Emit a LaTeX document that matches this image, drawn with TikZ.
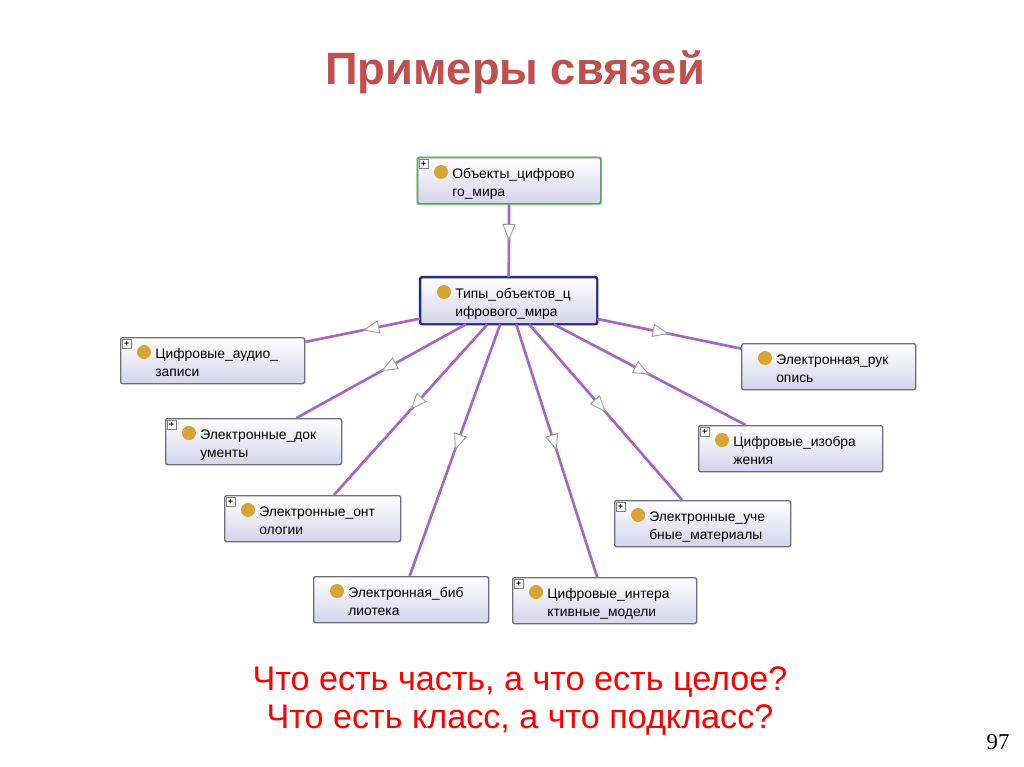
\documentclass[tikz,border=0pt]{standalone}
\usepackage{fontspec}
\setmainfont{Liberation Sans}
\newfontfamily\serifnum{Liberation Serif}
\usetikzlibrary{arrows.meta,decorations.markings,calc}
\definecolor{titlered}{RGB}{192,80,77}
\definecolor{edgepurple}{RGB}{170,100,195}
\definecolor{dotorange}{RGB}{215,165,50}
\definecolor{boxbottom}{RGB}{212,212,236}
\definecolor{boxborder}{RGB}{110,110,120}
\definecolor{hubborder}{RGB}{40,40,140}
\definecolor{topborder}{RGB}{120,200,120}
\tikzset{
  clsbox/.style={draw=boxborder, line width=1pt, rounded corners=1.5pt,
    top color=white, bottom color=boxbottom, inner sep=0pt,
    minimum height=34.5pt, anchor=north west},
  clsdot/.style={circle, fill=dotorange, inner sep=0pt, minimum size=10.5pt},
  clstext/.style={anchor=base west, inner sep=0pt,
    font=\fontsize{10.4}{13.5}\selectfont},
  plusbox/.style={draw=gray, fill=white, line width=0.5pt, inner sep=0pt,
    minimum size=6.5pt, anchor=north west,
    font=\fontsize{6.5}{6.5}\selectfont\bfseries},
  isa/.style={draw=edgepurple, line width=2pt,
    postaction={decorate},
    decoration={markings, mark=at position 0.5 with
      {\arrow[gray!75]{Triangle[fill=white,length=12.5pt,width=10pt,line width=0.7pt]}}}},
}
% \clsnode{name}{x}{y}{width}{line1}{line2}
\newcommand{\clsnode}[6]{%
  \node[clsbox, minimum width=#4*0.75pt] (#1) at (#2,#3) {};
  \node[clsdot] (#1-dot) at ($(#2,#3)+(24,15)$) {};
  \node[clstext] (#1-txt) at ($(#2,#3)+(35,21)$) {\vtop{\hbox{#5}\hbox{#6}}};
}
\newcommand{\plusmark}[3]{%
  \node[plusbox] (#1-plus) at ($(#2,#3)+(2,2)$) {+};
}
\begin{document}
\begin{tikzpicture}[x=0.75pt,y=-0.75pt]
\useasboundingbox (0,0) rectangle (1024,767);
\fill[white] (0,0) rectangle (1024,767);

\node[font=\fontsize{34}{38}\selectfont\bfseries, text=titlered] (title) at (515,72) {Примеры связей};

\clsnode{top}{417}{157}{183}{Объекты\_цифрово}{го\_мира}
\draw[topborder, line width=1pt, rounded corners=1.5pt] (top.north west) rectangle (top.south east);
\plusmark{top}{417}{157}
\clsnode{hub}{420}{277}{176}{Типы\_объектов\_ц}{ифрового\_мира}
\draw[hubborder, line width=1.6pt, rounded corners=1.5pt] (hub.north west) rectangle (hub.south east);

\clsnode{audio}{120}{337}{184}{Цифровые\_аудио\_}{записи}
\plusmark{audio}{120}{337}
\clsnode{manu}{741}{343}{174}{Электронная\_рук}{опись}
\clsnode{docs}{165}{418}{176}{Электронные\_док}{ументы}
\plusmark{docs}{165}{418}
\clsnode{images}{698}{425}{184}{Цифровые\_изобра}{жения}
\plusmark{images}{698}{425}
\clsnode{onto}{224}{495}{176}{Электронные\_онт}{ологии}
\plusmark{onto}{224}{495}
\clsnode{edu}{614}{500}{176}{Электронные\_уче}{бные\_материалы}
\plusmark{edu}{614}{500}
\clsnode{lib}{313}{576}{175}{Электронная\_биб}{лиотека}
\clsnode{inter}{512}{577}{184}{Цифровые\_интера}{ктивные\_модели}
\plusmark{inter}{512}{577}

\draw[isa] (top) -- (hub);
\draw[isa] (hub) -- (audio);
\draw[isa] (hub) -- (docs);
\draw[isa] (hub) -- (onto);
\draw[isa] (hub) -- (lib);
\draw[isa] (hub) -- (inter);
\draw[isa] (hub) -- (edu);
\draw[isa] (hub) -- (images);
\draw[isa] (hub) -- (manu);

\node[font=\fontsize{25.6}{28}\selectfont, text=red, align=center] (question) at (520,701)
  {Что есть часть, а что есть целое?\\Что есть класс, а что подкласс?};

\node[font=\serifnum\fontsize{17}{17}\selectfont] (pagenum) at (998,742) {97};
\end{tikzpicture}
\end{document}
